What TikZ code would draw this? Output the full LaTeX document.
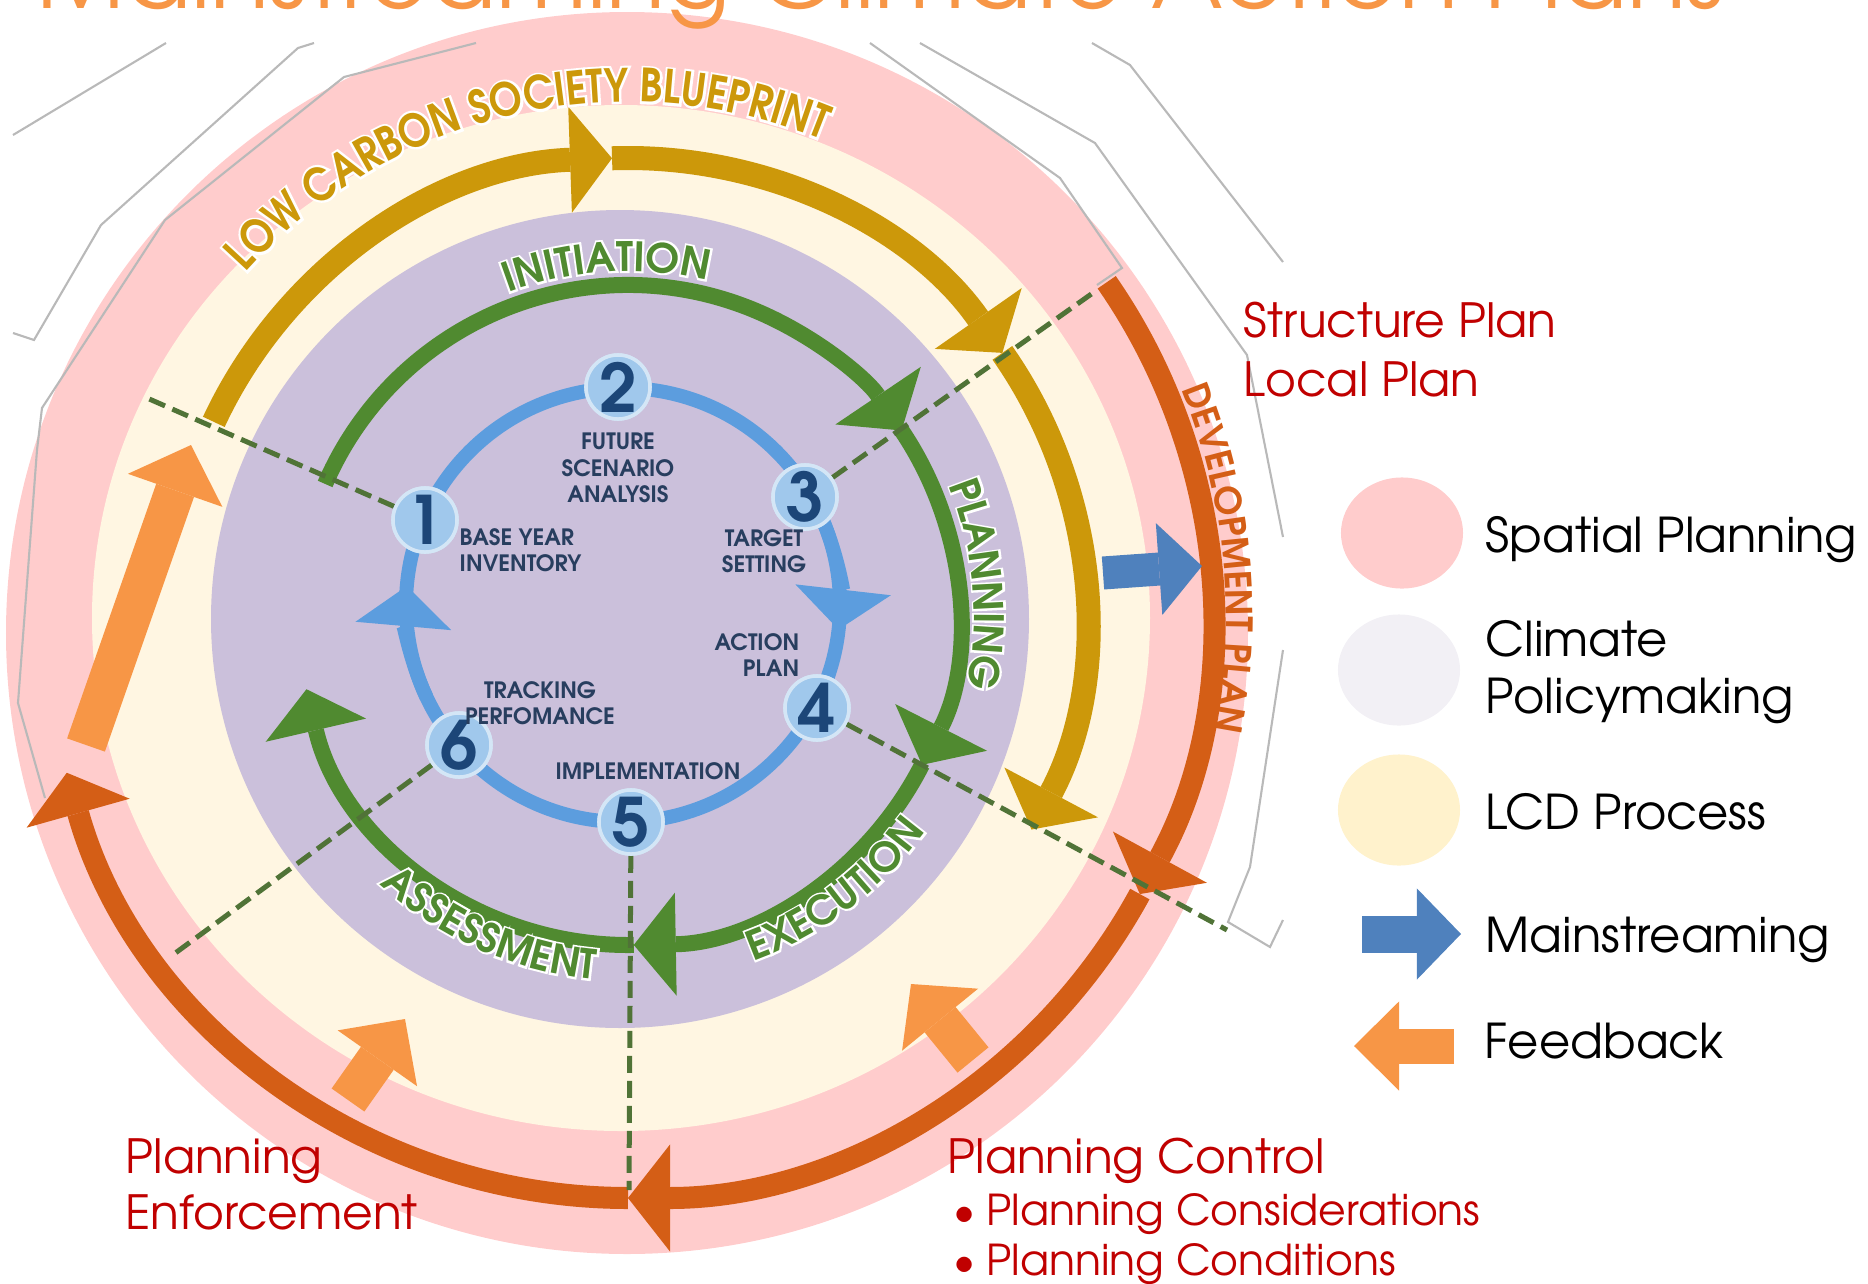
\documentclass[tikz,border=0pt]{standalone}
\usepackage{fontspec}
\setmainfont{texgyreadventor}[Extension=.otf, UprightFont=*-regular, BoldFont=*-bold]
\newfontfamily\wordart{texgyreadventor-bold.otf}[FakeStretch=0.86]
\newfontfamily\wordarthalo{texgyreadventor-bold.otf}[FakeStretch=0.86, FakeBold=10]
\newfontfamily\ringbold{texgyreadventor-bold.otf}
\newfontfamily\ringhalo{texgyreadventor-bold.otf}[FakeBold=10]
\usepackage{tikz}
\usetikzlibrary{arrows.meta,decorations.text,shapes.geometric,positioning}

\definecolor{spatial}{RGB}{255,204,204}
\definecolor{lcd}{RGB}{255,246,226}
\definecolor{lcdkey}{RGB}{255,242,204}
\definecolor{climate}{RGB}{203,192,219}
\definecolor{climatekey}{RGB}{242,240,245}
\definecolor{goldarc}{RGB}{204,152,10}
\definecolor{leaf}{RGB}{80,138,48}
\definecolor{ringblue}{RGB}{92,157,222}
\definecolor{stepblue}{RGB}{160,200,236}
\definecolor{stepnavy}{RGB}{28,70,120}
\definecolor{slate}{RGB}{40,62,95}
\definecolor{rust}{RGB}{212,94,22}
\definecolor{feed}{RGB}{247,150,70}
\definecolor{mainblue}{RGB}{79,129,189}
\definecolor{planred}{RGB}{192,0,0}
\definecolor{divgreen}{RGB}{80,115,55}
\definecolor{ghostgray}{RGB}{185,185,185}

\begin{document}
\begin{tikzpicture}[x=0.01cm, y=0.01cm,
 goldband/.style={draw=goldarc, line width=0.24cm, -{Triangle[width=1.06cm,length=0.42cm,line width=0pt]}},
 greenband/.style={draw=leaf, line width=0.16cm, -{Triangle[width=1.03cm,length=0.42cm,line width=0pt]}},
 rustband/.style={draw=rust, line width=0.22cm, -{Triangle[width=1.07cm,length=0.42cm,line width=0pt]}},
 blueband/.style={draw=ringblue, line width=0.14cm, -{Triangle[width=0.96cm,length=0.40cm,line width=0pt]}},
 divider/.style={draw=divgreen, line width=0.05cm, dash pattern=on 0.17cm off 0.08cm},
 ghost/.style={draw=ghostgray, line width=0.6pt},
 fatarrow/.style n args={4}{draw=#1, line width=#2, -{Triangle[width=#3,length=#4,line width=0pt]}},
 stage/.style={circle, fill=stepblue, draw=white!55!stepblue, line width=1pt, minimum size=0.64cm,
   inner sep=0pt, text=stepnavy, font=\bfseries\fontsize{19}{19}\selectfont},
 stagelbl/.style={text=slate, font=\bfseries\fontsize{6.4}{7.5}\selectfont, align=center, inner sep=0pt},
 planlbl/.style={text=planred, font=\fontsize{13.4}{15}\selectfont, inner sep=0pt, anchor=base west},
 bulletlbl/.style={planlbl, font=\fontsize{12.1}{15}\selectfont},
 keylbl/.style={font=\fontsize{13.65}{16}\selectfont, inner sep=0pt, anchor=base west},
 keyblob/.style={ellipse, minimum width=1.22cm, minimum height=1.11cm, inner sep=0pt},
 arctext/.style n args={3}{decorate, decoration={text along path, text align=center,
   text color=#1, text={|#2|#3}}}]
\useasboundingbox (0,0) rectangle (1868,-1284);
\coordinate (O) at (628,-615);
\coordinate (B) at (623,-605);

% background discs
\fill[spatial] (627,-633) circle[radius=621];
\draw[ghost] (13,-135) -- (166,-43);
\draw[ghost] (13,-333) -- (34,-340) -- (101,-225) -- (298,-48) -- (314,-43);
\draw[ghost] (476,-43) -- (344,-77) -- (165,-220) -- (42,-408) -- (37,-450) -- (18,-703) -- (45,-798);
\draw[ghost] (870,-43) -- (1060,-178) -- (1122,-268) -- (1097,-285);
\draw[ghost] (920,-43) -- (1095,-143) -- (1247,-355) -- (1283,-537);
\draw[ghost] (1092,-43) -- (1130,-65) -- (1283,-262);
\draw[ghost] (1283,-650) -- (1250,-867) -- (1228,-922) -- (1270,-947) -- (1283,-920);
\fill[lcd] (621,-618) ellipse[x radius=529, y radius=513];
\fill[climate] (620,-619) circle[radius=409];

% rings
\draw[ringblue, line width=0.14cm] (B) circle[radius=217];
\draw[blueband] ([shift={(25:217)}]B) arc[start angle=25, end angle=-6.5, radius=217];
\draw[blueband] ([shift={(205:217)}]B) arc[start angle=205, end angle=175, radius=217];
\foreach \a/\b in {155/92, 92/35, 35/-28}
  \draw[goldband] ([shift={(\a:457)}]O) arc[start angle=\a, end angle=\b, radius=457];
\foreach \a/\b in {156.6/34, 34/-27, -27/-89, 271/193}
  \draw[greenband] ([shift={(\a:330)}]O) arc[start angle=\a, end angle=\b, radius=330];
\foreach \a/\b in {34.8/-28.6, -28.6/-90, 270/195.7}
  \draw[rustband] ([shift={(\a:583)}]O) arc[start angle=\a, end angle=\b, radius=583];

% ring titles, white halo first
\foreach \hue/\face in {white/\wordarthalo, goldarc/\wordart}
  \path[arctext={\hue}{\face\fontsize{13}{13}\selectfont}{LOW CARBON SOCIETY BLUEPRINT}]
    ([shift={(163:513)}]O) arc[start angle=163, end angle=43, radius=513];
\foreach \hue/\face in {white/\ringhalo, leaf/\ringbold} {
  \path[arctext={\hue}{\face\fontsize{11.5}{11.5}\selectfont}{INITIATION}]
    ([shift={(143.5:344)}]O) arc[start angle=143.5, end angle=43.5, radius=344];
  \path[arctext={\hue}{\face\fontsize{11.5}{11.5}\selectfont}{PLANNING}]
    ([shift={(55:346)}]O) arc[start angle=55, end angle=-45, radius=346];
  \path[arctext={\hue}{\face\fontsize{11.5}{11.5}\selectfont}{EXECUTION}]
    ([shift={(-103:368)}]O) arc[start angle=-103, end angle=-3, radius=368];
  \path[arctext={\hue}{\face\fontsize{11.5}{11.5}\selectfont}{ASSESSMENT}]
    ([shift={(196:366)}]O) arc[start angle=196, end angle=296, radius=366];
}
\path[arctext={rust}{\ringbold\fontsize{10.3}{10.3}\selectfont}{DEVELOPMENT PLAN}]
  ([shift={(55.5:598)}]O) arc[start angle=55.5, end angle=-44.5, radius=598];

% steps of the LCS cycle
\node[stage] (n1) at (425,-520) {1};
\node[stage] (n2) at (618,-387) {2};
\node[stage] (n3) at (805,-497) {3};
\node[stage] (n4) at (817,-708) {4};
\node[stage] (n5) at (631,-822) {5};
\node[stage] (n6) at (459,-745) {6};
\coordinate (e1) at (147,-398);
\coordinate (e3) at (1097,-290);
\coordinate (e4) at (1227,-930);
\coordinate (e5) at (629,-1190);
\coordinate (e6) at (174,-954);
\foreach \s in {1,3,4,5,6}
  \draw[divider] (n\s) -- (e\s);
\foreach \s in {1,...,6}
  \node[stage] at (n\s) {\s};

\node[stagelbl] (l2) at (618,-468) {FUTURE\\SCENARIO\\ANALYSIS};
\node[stagelbl, align=left, anchor=west] (l1) at (459,-550) {BASE YEAR\\INVENTORY};
\node[stagelbl] (l3) at (764,-551) {TARGET\\SETTING};
\node[stagelbl, align=right, anchor=east] (l4) at (800,-655) {ACTION\\PLAN};
\node[stagelbl] (l6) at (540,-703) {TRACKING\\PERFOMANCE};
\node[stagelbl] (l5) at (648,-771) {IMPLEMENTATION};

% feedback and mainstreaming
\draw[fatarrow={feed}{0.40cm}{1.0cm}{0.48cm}] (86,-745) -- (191,-445);
\draw[fatarrow={feed}{0.40cm}{0.97cm}{0.48cm}] (348,-1100) -- (405,-1019);
\draw[fatarrow={feed}{0.40cm}{0.98cm}{0.46cm}] (973,-1060) -- (911,-984);
\draw[fatarrow={mainblue}{0.33cm}{0.92cm}{0.43cm}] (1103,-573) -- (1202,-566);

% planning instruments
\node[planlbl] (structure) at (1243,-337) {Structure Plan};
\node[planlbl] (local) at (1243,-396) {Local Plan};
\node[planlbl] (enf1) at (125,-1173) {Planning};
\node[planlbl] (enf2) at (125,-1229) {Enforcement};
\node[planlbl] (control) at (947,-1173) {Planning Control};
\node[bulletlbl] (consid) at (953,-1225) {\makebox[0.33cm][l]{\textbullet}Planning Considerations};
\node[bulletlbl] (condit) at (953,-1275) {\makebox[0.33cm][l]{\textbullet}Planning Conditions};

% key
\node[keyblob, fill=spatial] (kspatial) at (1402,-533) {};
\node[keyblob, fill=climatekey] (kclimate) at (1399,-670) {};
\node[keyblob, fill=lcdkey] (klcd) at (1399,-810) {};
\draw[fatarrow={mainblue}{0.37cm}{0.91cm}{0.44cm}] (1362,-934) -- (1461,-934);
\draw[fatarrow={feed}{0.35cm}{0.89cm}{0.45cm}] (1454,-1046) -- (1354,-1046);
\node[keylbl] (tspatial) at (1485,-552) {Spatial Planning};
\node[keylbl] (tclimate) at (1485,-656) {Climate};
\node[keylbl] (tpolicy) at (1485,-713) {Policymaking};
\node[keylbl] (tlcd) at (1485,-829) {LCD Process};
\node[keylbl] (tmain) at (1485,-952) {Mainstreaming};
\node[keylbl] (tfeed) at (1484,-1058) {Feedback};

\node[anchor=base west, inner sep=0pt, text=feed, font=\fontsize{27.5}{27.5}\selectfont] (title)
  at (36,-8) {Mainstreaming Climate Action Plans};
\end{tikzpicture}
\end{document}
